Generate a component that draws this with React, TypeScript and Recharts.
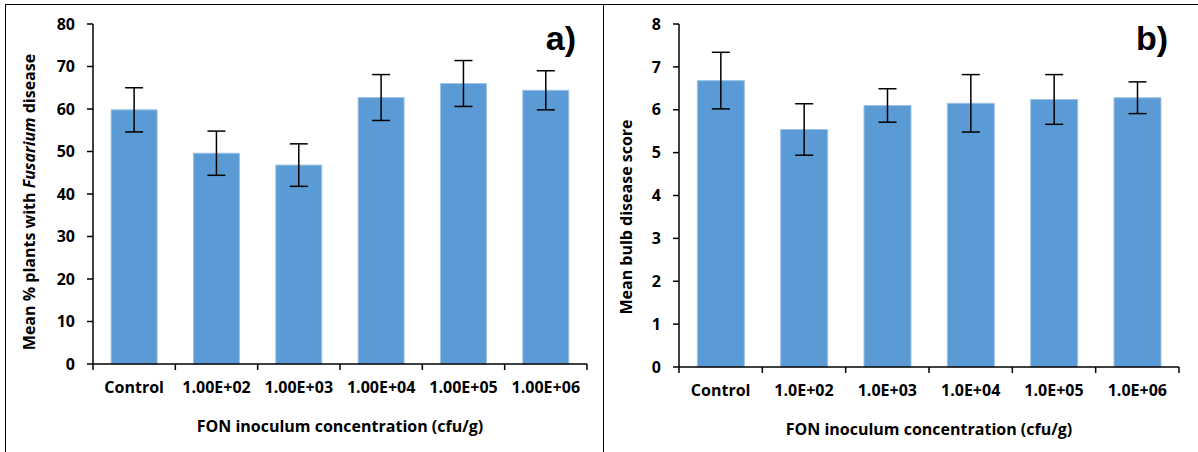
import React from 'react'
import { BarChart, Bar, XAxis, YAxis, ErrorBar, Label } from 'recharts'

// a) % plants with Fusarium disease
const concA = ['Control', '1.00E+02', '1.00E+03', '1.00E+04', '1.00E+05', '1.00E+06']
const pctDisease = [59.8, 49.6, 46.8, 62.7, 66.0, 64.4]
const pctDiseaseErr = [5.2, 5.2, 5.0, 5.4, 5.4, 4.6]
const pctTicks = [0, 10, 20, 30, 40, 50, 60, 70, 80]

// b) bulb disease score
const concB = ['Control', '1.0E+02', '1.0E+03', '1.0E+04', '1.0E+05', '1.0E+06']
const bulbScore = [6.68, 5.54, 6.1, 6.15, 6.24, 6.28]
const bulbScoreErr = [0.66, 0.6, 0.39, 0.67, 0.58, 0.37]
const scoreTicks = [0, 1, 2, 3, 4, 5, 6, 7, 8]

const BAR = '#5B9BD5'
const FONT = '"Open Sans", Lato, sans-serif'
const FS = 16

const rowsA = concA.map((c, i) => ({ conc: c, value: pctDisease[i], err: pctDiseaseErr[i] }))
const rowsB = concB.map((c, i) => ({ conc: c, value: bulbScore[i], err: bulbScoreErr[i] }))

interface TickProps {
  x?: number
  y?: number
  index?: number
  payload?: { value: string }
  band: number
  count: number
}

function CategoryTick({ x = 0, y = 0, index = 0, payload, band, count }: TickProps) {
  const half = band / 2
  return (
    <g>
      <line x1={x - half} y1={y} x2={x - half} y2={y + 6} stroke="#000" strokeWidth={1.5} />
      {index === count - 1 && (
        <line x1={x + half} y1={y} x2={x + half} y2={y + 6} stroke="#000" strokeWidth={1.5} />
      )}
      <text x={x} y={y + 29} textAnchor="middle" fontFamily={FONT} fontWeight={700} fontSize={FS} fill="#000">
        {payload?.value}
      </text>
    </g>
  )
}

interface PanelProps {
  rows: { conc: string; value: number; err: number }[]
  width: number
  axisWidth: number
  marginRight: number
  marginTop: number
  marginBottom: number
  max: number
  ticks: number[]
  tickGap: number
  yTitle: React.ReactNode
  yTitleX: number
  yTitleY: number
  tag: string
}

function Panel(p: PanelProps) {
  const height = 452
  const band = (p.width - p.axisWidth - p.marginRight) / p.rows.length
  return (
    <BarChart
      width={p.width}
      height={height}
      data={p.rows}
      margin={{ top: p.marginTop, right: p.marginRight, left: 0, bottom: p.marginBottom }}
      barCategoryGap="22%"
    >
      <XAxis
        dataKey="conc"
        height={60}
        axisLine={{ stroke: '#000', strokeWidth: 1.5 }}
        tickLine={false}
        tickSize={0}
        tickMargin={0}
        interval={0}
        tick={<CategoryTick band={band} count={p.rows.length} />}
      >
        <Label
          content={(props: any) => {
            const vb = props.viewBox
            return (
              <text
                x={vb.x + vb.width / 2}
                y={vb.y + 68}
                textAnchor="middle"
                fontFamily={FONT}
                fontWeight={700}
                fontSize={FS}
                fill="#000"
              >
                FON inoculum concentration (cfu/g)
              </text>
            )
          }}
        />
        <Label
          content={(props: any) => {
            const vb = props.viewBox
            return (
              <text
                x={vb.x + vb.width - 11}
                y={50}
                textAnchor="end"
                fontFamily="Arial, 'Liberation Sans', sans-serif"
                fontWeight={700}
                fontSize={34}
                fill="#000"
              >
                {p.tag}
              </text>
            )
          }}
        />
      </XAxis>
      <YAxis
        width={p.axisWidth}
        domain={[0, p.max]}
        ticks={p.ticks}
        interval={0}
        axisLine={{ stroke: '#000', strokeWidth: 1.5 }}
        tickLine={{ stroke: '#000', strokeWidth: 1.5 }}
        tickSize={6}
        tickMargin={p.tickGap}
        tick={{ fontFamily: FONT, fontWeight: 700, fontSize: FS, fill: '#000' }}
      >
        <Label
          content={() => (
            <text
              transform={`rotate(-90 ${p.yTitleX} ${p.yTitleY})`}
              x={p.yTitleX}
              y={p.yTitleY}
              textAnchor="middle"
              dominantBaseline="central"
              fontFamily={FONT}
              fontWeight={700}
              fontSize={FS}
              fill="#000"
            >
              {p.yTitle}
            </text>
          )}
        />
      </YAxis>
      <Bar dataKey="value" fill={BAR} stroke="#9DC3E6" strokeWidth={1} isAnimationActive={false}>
        <ErrorBar dataKey="err" width={9} stroke="#000" strokeWidth={1.5} direction="y" />
      </Bar>
    </BarChart>
  )
}

export default function App() {
  return (
    <div style={{ position: 'absolute', left: 0, top: 0, width: 1198, height: 452, background: '#fff', overflow: 'hidden' }}>
      <div
        style={{
          position: 'absolute',
          left: 5,
          top: 4,
          width: 1200,
          height: 460,
          borderLeft: '1.5px solid #000',
          borderTop: '1.5px solid #000',
        }}
      />
      <div style={{ position: 'absolute', left: 603, top: 4, width: 0, height: 460, borderLeft: '1.5px solid #000' }} />
      <div style={{ position: 'absolute', left: 0, top: 0 }}>
        <Panel
          rows={rowsA}
          width={603}
          axisWidth={93}
          marginRight={16}
          marginTop={24}
          marginBottom={28}
          max={80}
          ticks={pctTicks}
          tickGap={12}
          yTitleX={29}
          yTitleY={202}
          tag="a)"
          yTitle={
            <>
              <tspan>Mean % plants with </tspan>
              <tspan fontStyle="italic">Fusarium</tspan>
              <tspan> disease</tspan>
            </>
          }
        />
      </div>
      <div style={{ position: 'absolute', left: 603, top: 0 }}>
        <Panel
          rows={rowsB}
          width={595}
          axisWidth={76}
          marginRight={19}
          marginTop={24}
          marginBottom={25}
          max={8}
          ticks={scoreTicks}
          tickGap={12}
          yTitleX={23}
          yTitleY={217}
          tag="b)"
          yTitle="Mean bulb disease score"
        />
      </div>
    </div>
  )
}
